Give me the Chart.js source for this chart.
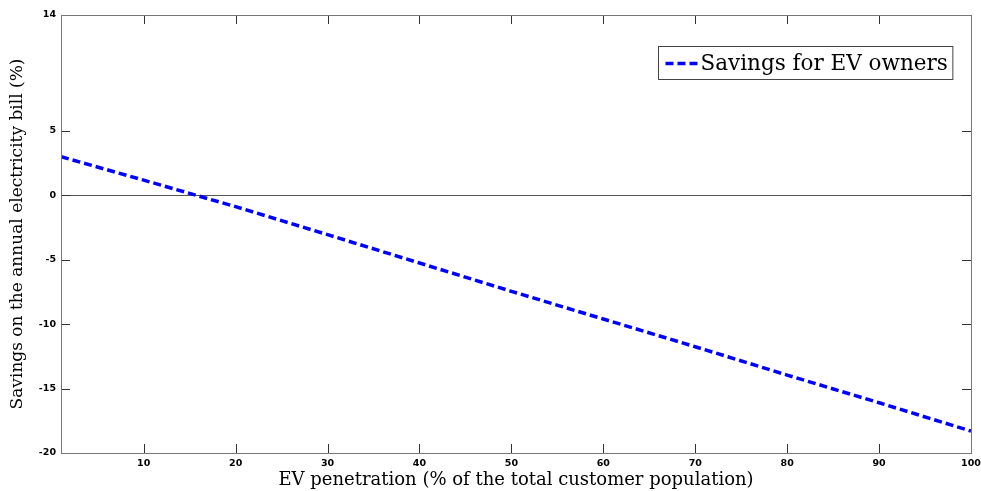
<!DOCTYPE html>
<html>
<head>
<meta charset="utf-8">
<script src="https://cdn.jsdelivr.net/npm/chart.js@4.4.1/dist/chart.umd.min.js"></script>
<style>
html,body{margin:0;padding:0;background:#fff;}
#wrap{width:981px;height:491px;position:relative;}
</style>
</head>
<body>
<div id="wrap"><canvas id="c" width="981" height="491"></canvas></div>
<script>
// Data
const penetration = [1, 10, 20, 30, 40, 50, 60, 70, 80, 90, 100];
const savings = [3.0, 1.18, -0.88, -3.05, -5.25, -7.45, -9.6, -11.75, -13.95, -16.1, -18.3];
const xTickValues = [10, 20, 30, 40, 50, 60, 70, 80, 90, 100];
const yTickValues = [-20, -15, -10, -5, 0, 5, 14];
const seriesLabel = 'Savings for EV owners';
const xTitle = 'EV penetration (% of the total customer population)';
const yTitle = 'Savings on the annual electricity bill (%)';

const BOX = '#777777';
const TICKC = '#333333';
const TICKLEN = 9;
const tickFont = {family: 'DejaVu Sans', size: 9.5, weight: 'bold'};

const boxTicks = {
  id: 'boxTicks',
  beforeDatasetsDraw(chart) {
    const {ctx, chartArea: a, scales: {y}} = chart;
    ctx.save();
    ctx.strokeStyle = '#555555';
    ctx.lineWidth = 1;
    const py = Math.round(y.getPixelForValue(0)) + 0.5;
    ctx.beginPath();
    ctx.moveTo(a.left, py); ctx.lineTo(a.right, py);
    ctx.stroke();
    ctx.restore();
  },
  afterDatasetsDraw(chart) {
    const {ctx, chartArea: a, scales: {x, y}} = chart;
    ctx.save();
    ctx.strokeStyle = TICKC;
    ctx.lineWidth = 1;
    ctx.beginPath();
    xTickValues.forEach(v => {
      const px = Math.round(x.getPixelForValue(v)) + 0.5;
      ctx.moveTo(px, a.bottom); ctx.lineTo(px, a.bottom - TICKLEN);
      ctx.moveTo(px, a.top); ctx.lineTo(px, a.top + TICKLEN);
    });
    yTickValues.forEach(v => {
      const py = Math.round(y.getPixelForValue(v)) + 0.5;
      ctx.moveTo(a.left, py); ctx.lineTo(a.left + TICKLEN, py);
      ctx.moveTo(a.right, py); ctx.lineTo(a.right - TICKLEN, py);
    });
    ctx.stroke();
    ctx.strokeStyle = BOX;
    ctx.strokeRect(Math.round(a.left) + 0.5, Math.round(a.top) + 0.5,
      Math.round(a.right - a.left), Math.round(a.bottom - a.top));
    // legend
    const ds = chart.data.datasets[0];
    ctx.font = '21.5px "DejaVu Serif"';
    const tw = ctx.measureText(ds.label).width;
    const bx = 658.5, by = 46.5, bh = 33;
    const sample = 33;
    const bw = 7 + sample + 2 + tw + 5;
    ctx.fillStyle = '#fff';
    ctx.fillRect(bx, by, bw, bh);
    ctx.strokeStyle = '#444';
    ctx.lineWidth = 1;
    ctx.strokeRect(bx, by, bw, bh);
    ctx.strokeStyle = ds.borderColor;
    ctx.lineWidth = ds.borderWidth;
    ctx.setLineDash(ds.borderDash);
    ctx.beginPath();
    ctx.moveTo(bx + 7, by + bh / 2 + 0.5);
    ctx.lineTo(bx + 7 + sample, by + bh / 2 + 0.5);
    ctx.stroke();
    ctx.setLineDash([]);
    ctx.fillStyle = '#000';
    ctx.textBaseline = 'middle';
    ctx.fillText(ds.label, bx + 7 + sample + 2, by + bh / 2 + 1);
    ctx.restore();
  }
};

new Chart(document.getElementById('c'), {
  type: 'line',
  data: {
    datasets: [{
      label: seriesLabel,
      data: penetration.map((p, i) => ({x: p, y: savings[i]})),
      borderColor: '#0000ff',
      borderWidth: 3.5,
      borderDash: [8, 4],
      pointRadius: 0,
      tension: 0,
      fill: false
    }]
  },
  options: {
    responsive: false,
    animation: false,
    devicePixelRatio: 1,
    layout: {padding: {top: 15, right: 10, left: 0, bottom: 0}},
    plugins: {legend: {display: false}, tooltip: {enabled: false}},
    scales: {
      x: {
        type: 'linear', min: 1, max: 100,
        afterBuildTicks: s => { s.ticks = xTickValues.map(v => ({value: v})); },
        afterFit: s => { s.height = 38; s.paddingRight = 0; s.paddingLeft = 0; },
        border: {display: false},
        grid: {display: false, drawTicks: false},
        ticks: {font: tickFont, color: '#000', padding: 5, maxRotation: 0, autoSkip: false},
        title: {display: true, text: xTitle, font: {family: 'DejaVu Serif', size: 18}, color: '#000', padding: {top: 0, bottom: 0}}
      },
      y: {
        type: 'linear', min: -20, max: 14,
        afterBuildTicks: s => { s.ticks = yTickValues.map(v => ({value: v})); },
        afterFit: s => { s.width = 61; s.paddingTop = 0; s.paddingBottom = 0; },
        border: {display: false},
        grid: {display: false, drawTicks: false},
        ticks: {font: tickFont, color: '#000', padding: 5, autoSkip: false},
        title: {display: true, text: yTitle, font: {family: 'DejaVu Serif', size: 17}, color: '#000', padding: {top: 7, bottom: 0}}
      }
    }
  },
  plugins: [boxTicks]
});
</script>
</body>
</html>
